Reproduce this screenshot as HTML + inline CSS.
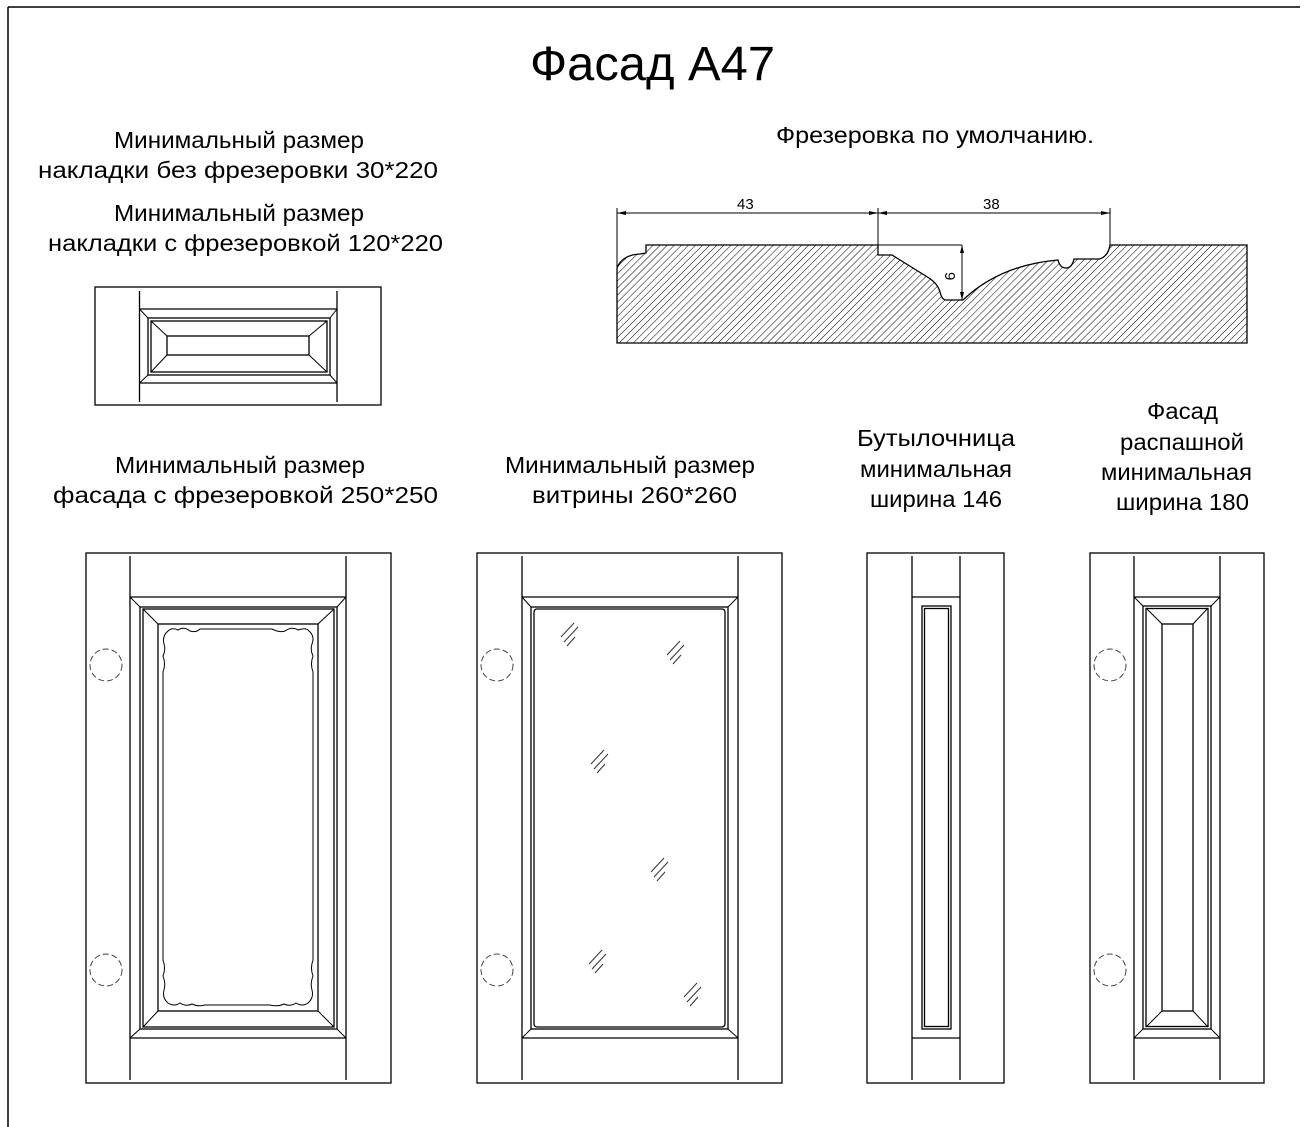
<!DOCTYPE html>
<html><head><meta charset="utf-8"><style>
html,body{margin:0;padding:0;background:#fff;}
svg{display:block;}
text{font-family:"Liberation Sans",sans-serif;fill:#000;}
</style></head><body>
<svg width="1308" height="1127" viewBox="0 0 1308 1127" xmlns="http://www.w3.org/2000/svg">
<defs>
<pattern id="h" patternUnits="userSpaceOnUse" width="5" height="5" patternTransform="rotate(45)">
<line x1="0" y1="0" x2="0" y2="5" stroke="#000" stroke-width="1"/>
</pattern>
<g id="gm" stroke="#333" stroke-width="1">
<line x1="-9" y1="4" x2="4" y2="-10"/><line x1="-6" y1="9" x2="8" y2="-6"/><line x1="-3" y1="13" x2="5" y2="4"/>
</g>
</defs>
<g fill="none" stroke="#000" stroke-width="1.5">
<line x1="8" y1="7" x2="1300" y2="7"/><line x1="8" y1="7" x2="8" y2="1127"/>
</g>
<text x="530" y="80" font-size="48" textLength="245" lengthAdjust="spacingAndGlyphs">Фасад А47</text>
<g font-size="23">
<text x="114" y="148" textLength="250" lengthAdjust="spacingAndGlyphs">Минимальный размер</text>
<text x="38" y="178" textLength="400" lengthAdjust="spacingAndGlyphs">накладки без фрезеровки 30*220</text>
<text x="114" y="221" textLength="250" lengthAdjust="spacingAndGlyphs">Минимальный размер</text>
<text x="48" y="251" textLength="395" lengthAdjust="spacingAndGlyphs">накладки с фрезеровкой 120*220</text>
<text x="776" y="143" textLength="318" lengthAdjust="spacingAndGlyphs">Фрезеровка по умолчанию.</text>
<text x="115" y="473" textLength="250" lengthAdjust="spacingAndGlyphs">Минимальный размер</text>
<text x="53" y="503" textLength="385" lengthAdjust="spacingAndGlyphs">фасада с фрезеровкой  250*250</text>
<text x="505" y="473" textLength="250" lengthAdjust="spacingAndGlyphs">Минимальный размер</text>
<text x="532" y="503" textLength="205" lengthAdjust="spacingAndGlyphs">витрины 260*260</text>
<text x="857" y="446" textLength="158" lengthAdjust="spacingAndGlyphs">Бутылочница</text>
<text x="860" y="477" textLength="152" lengthAdjust="spacingAndGlyphs">минимальная</text>
<text x="870" y="507" textLength="132" lengthAdjust="spacingAndGlyphs">ширина 146</text>
<text x="1147" y="419" textLength="71" lengthAdjust="spacingAndGlyphs">Фасад</text>
<text x="1120" y="450" textLength="124" lengthAdjust="spacingAndGlyphs">распашной</text>
<text x="1101" y="480" textLength="151" lengthAdjust="spacingAndGlyphs">минимальная</text>
<text x="1116" y="510" textLength="133" lengthAdjust="spacingAndGlyphs">ширина 180</text>
</g>
<path d="M617,268 Q622,255 640,254 L646,253 L646,245 L878,245 L878,255 L892,255 L929,278 Q938,284 940,292 Q942,300 946,300 L963,300 Q1000,265 1058,260 Q1060,268 1066,268 Q1072,268 1074,259 L1099,259 Q1108,257 1110,245 L1247,245 L1247,343 L617,343 Z" fill="url(#h)" stroke="#000" stroke-width="1.3"/>
<g stroke="#000" stroke-width="1" fill="none">
<line x1="617" y1="208" x2="617" y2="268"/>
<line x1="878" y1="208" x2="878" y2="255"/>
<line x1="1110" y1="208" x2="1110" y2="245"/>
<line x1="617" y1="213" x2="1110" y2="213"/>
<line x1="878" y1="245" x2="962" y2="245"/>
<line x1="962" y1="245" x2="962" y2="300"/>
</g>
<g fill="#000">
<path d="M617,213 l9,-2 v4z"/><path d="M878,213 l-9,-2 v4z"/><path d="M878,213 l9,-2 v4z"/><path d="M1110,213 l-9,-2 v4z"/>
<path d="M962,245 l-2,8 h4z"/><path d="M962,300 l-2,-8 h4z"/>
</g>
<g font-size="15">
<text x="737" y="209">43</text><text x="983" y="209">38</text>
<text transform="translate(945,272) rotate(90)" x="0" y="0">9</text>
</g>
<g fill="none" stroke="#000" stroke-width="1.3">
<rect x="95" y="287" width="286" height="118"/>
<line x1="139.5" y1="291" x2="139.5" y2="402"/><line x1="337" y1="291" x2="337" y2="402"/>
<line x1="139.5" y1="309" x2="337" y2="309"/><line x1="139.5" y1="383" x2="337" y2="383"/>
<rect x="148" y="318" width="182" height="57"/>
<rect x="151" y="321" width="176" height="51"/>
<rect x="167" y="336" width="142" height="19"/>
<g stroke-width="1"><line x1="139.5" y1="309" x2="148" y2="318"/><line x1="337" y1="309" x2="330" y2="318"/><line x1="139.5" y1="383" x2="148" y2="375"/><line x1="337" y1="383" x2="330" y2="375"/>
<line x1="151" y1="321" x2="167" y2="336"/><line x1="327" y1="321" x2="309" y2="336"/><line x1="151" y1="372" x2="167" y2="355"/><line x1="327" y1="372" x2="309" y2="355"/></g>
</g>
<g fill="none" stroke="#000" stroke-width="1.3">
<rect x="86" y="553" width="305" height="530"/>
<line x1="130" y1="556" x2="130" y2="1080"/><line x1="346" y1="556" x2="346" y2="1080"/>
<line x1="130" y1="597" x2="346" y2="597"/><line x1="130" y1="1038" x2="346" y2="1038"/>
<rect x="140" y="607" width="197" height="422"/>
<rect x="143" y="609" width="191" height="418"/>
<rect x="158" y="624" width="160" height="387"/>
<g stroke-width="1"><line x1="130" y1="597" x2="140" y2="607"/><line x1="346" y1="597" x2="337" y2="607"/><line x1="130" y1="1038" x2="140" y2="1029"/><line x1="346" y1="1038" x2="337" y2="1029"/>
<line x1="143" y1="609" x2="158" y2="624"/><line x1="334" y1="609" x2="318" y2="624"/><line x1="143" y1="1027" x2="158" y2="1011"/><line x1="334" y1="1027" x2="318" y2="1011"/></g>
<path stroke-width="1" d="M200,629 L272,629 Q280,633 285,631 Q292,626 298,630 Q306,627 309,631 Q315,636 312,644 Q310,650 313,656 Q310,664 313,672 L313,960 Q310,968 313,976 Q310,984 312,990 Q314,998 308,1003 Q302,1007 296,1003 Q290,1007 284,1004 Q278,1007 270,1005 L205,1005 Q198,1007 192,1004 Q186,1007 180,1003 Q174,1007 168,1003 Q162,998 164,990 Q166,984 163,976 Q166,968 163,960 L163,672 Q166,664 163,656 Q166,650 164,644 Q162,636 168,631 Q172,627 178,630 Q184,626 190,631 Q196,633 200,629 Z"/>
<g stroke-width="1" stroke-dasharray="6,3" stroke="#444"><circle cx="106" cy="665" r="16"/><circle cx="106" cy="970" r="16"/></g>
</g>
<g fill="none" stroke="#000" stroke-width="1.3">
<rect x="477" y="553" width="305" height="530"/>
<line x1="522" y1="556" x2="522" y2="1080"/><line x1="738" y1="556" x2="738" y2="1080"/>
<line x1="522" y1="597" x2="738" y2="597"/><line x1="522" y1="1038" x2="738" y2="1038"/>
<rect x="531" y="607" width="197" height="422"/>
<rect x="534" y="609" width="191" height="418" rx="3"/>
<g stroke-width="1"><line x1="522" y1="597" x2="531" y2="607"/><line x1="738" y1="597" x2="728" y2="607"/><line x1="522" y1="1038" x2="531" y2="1029"/><line x1="738" y1="1038" x2="728" y2="1029"/></g>
<g stroke-width="1" stroke-dasharray="6,3" stroke="#444"><circle cx="497" cy="665" r="16"/><circle cx="497" cy="970" r="16"/></g>
</g>
<use href="#gm" x="570" y="633"/><use href="#gm" x="676" y="651"/><use href="#gm" x="600" y="760"/><use href="#gm" x="660" y="868"/><use href="#gm" x="598" y="960"/><use href="#gm" x="693" y="993"/>
<g fill="none" stroke="#000" stroke-width="1.3">
<rect x="867" y="553" width="137" height="530"/>
<line x1="912" y1="556" x2="912" y2="1080"/><line x1="960" y1="556" x2="960" y2="1080"/>
<line x1="912" y1="597" x2="960" y2="597"/><line x1="912" y1="1038" x2="960" y2="1038"/>
<rect x="922" y="606" width="29" height="423"/>
<rect x="924.5" y="608.5" width="24" height="418"/>
</g>
<g fill="none" stroke="#000" stroke-width="1.3">
<rect x="1090" y="553" width="174" height="530"/>
<line x1="1134" y1="556" x2="1134" y2="1080"/><line x1="1220" y1="556" x2="1220" y2="1080"/>
<line x1="1134" y1="597" x2="1220" y2="597"/><line x1="1134" y1="1038" x2="1220" y2="1038"/>
<rect x="1143" y="606" width="68" height="423"/>
<rect x="1146" y="608.5" width="62" height="418"/>
<rect x="1162" y="624" width="31" height="387"/>
<g stroke-width="1"><line x1="1134" y1="597" x2="1143" y2="606"/><line x1="1220" y1="597" x2="1211" y2="606"/><line x1="1134" y1="1038" x2="1143" y2="1029"/><line x1="1220" y1="1038" x2="1211" y2="1029"/>
<line x1="1146" y1="608" x2="1162" y2="624"/><line x1="1208" y1="608" x2="1193" y2="624"/><line x1="1146" y1="1027" x2="1162" y2="1011"/><line x1="1208" y1="1027" x2="1193" y2="1011"/></g>
<g stroke-width="1" stroke-dasharray="6,3" stroke="#444"><circle cx="1110" cy="665" r="16"/><circle cx="1110" cy="970" r="16"/></g>
</g>
</svg>
</body></html>
